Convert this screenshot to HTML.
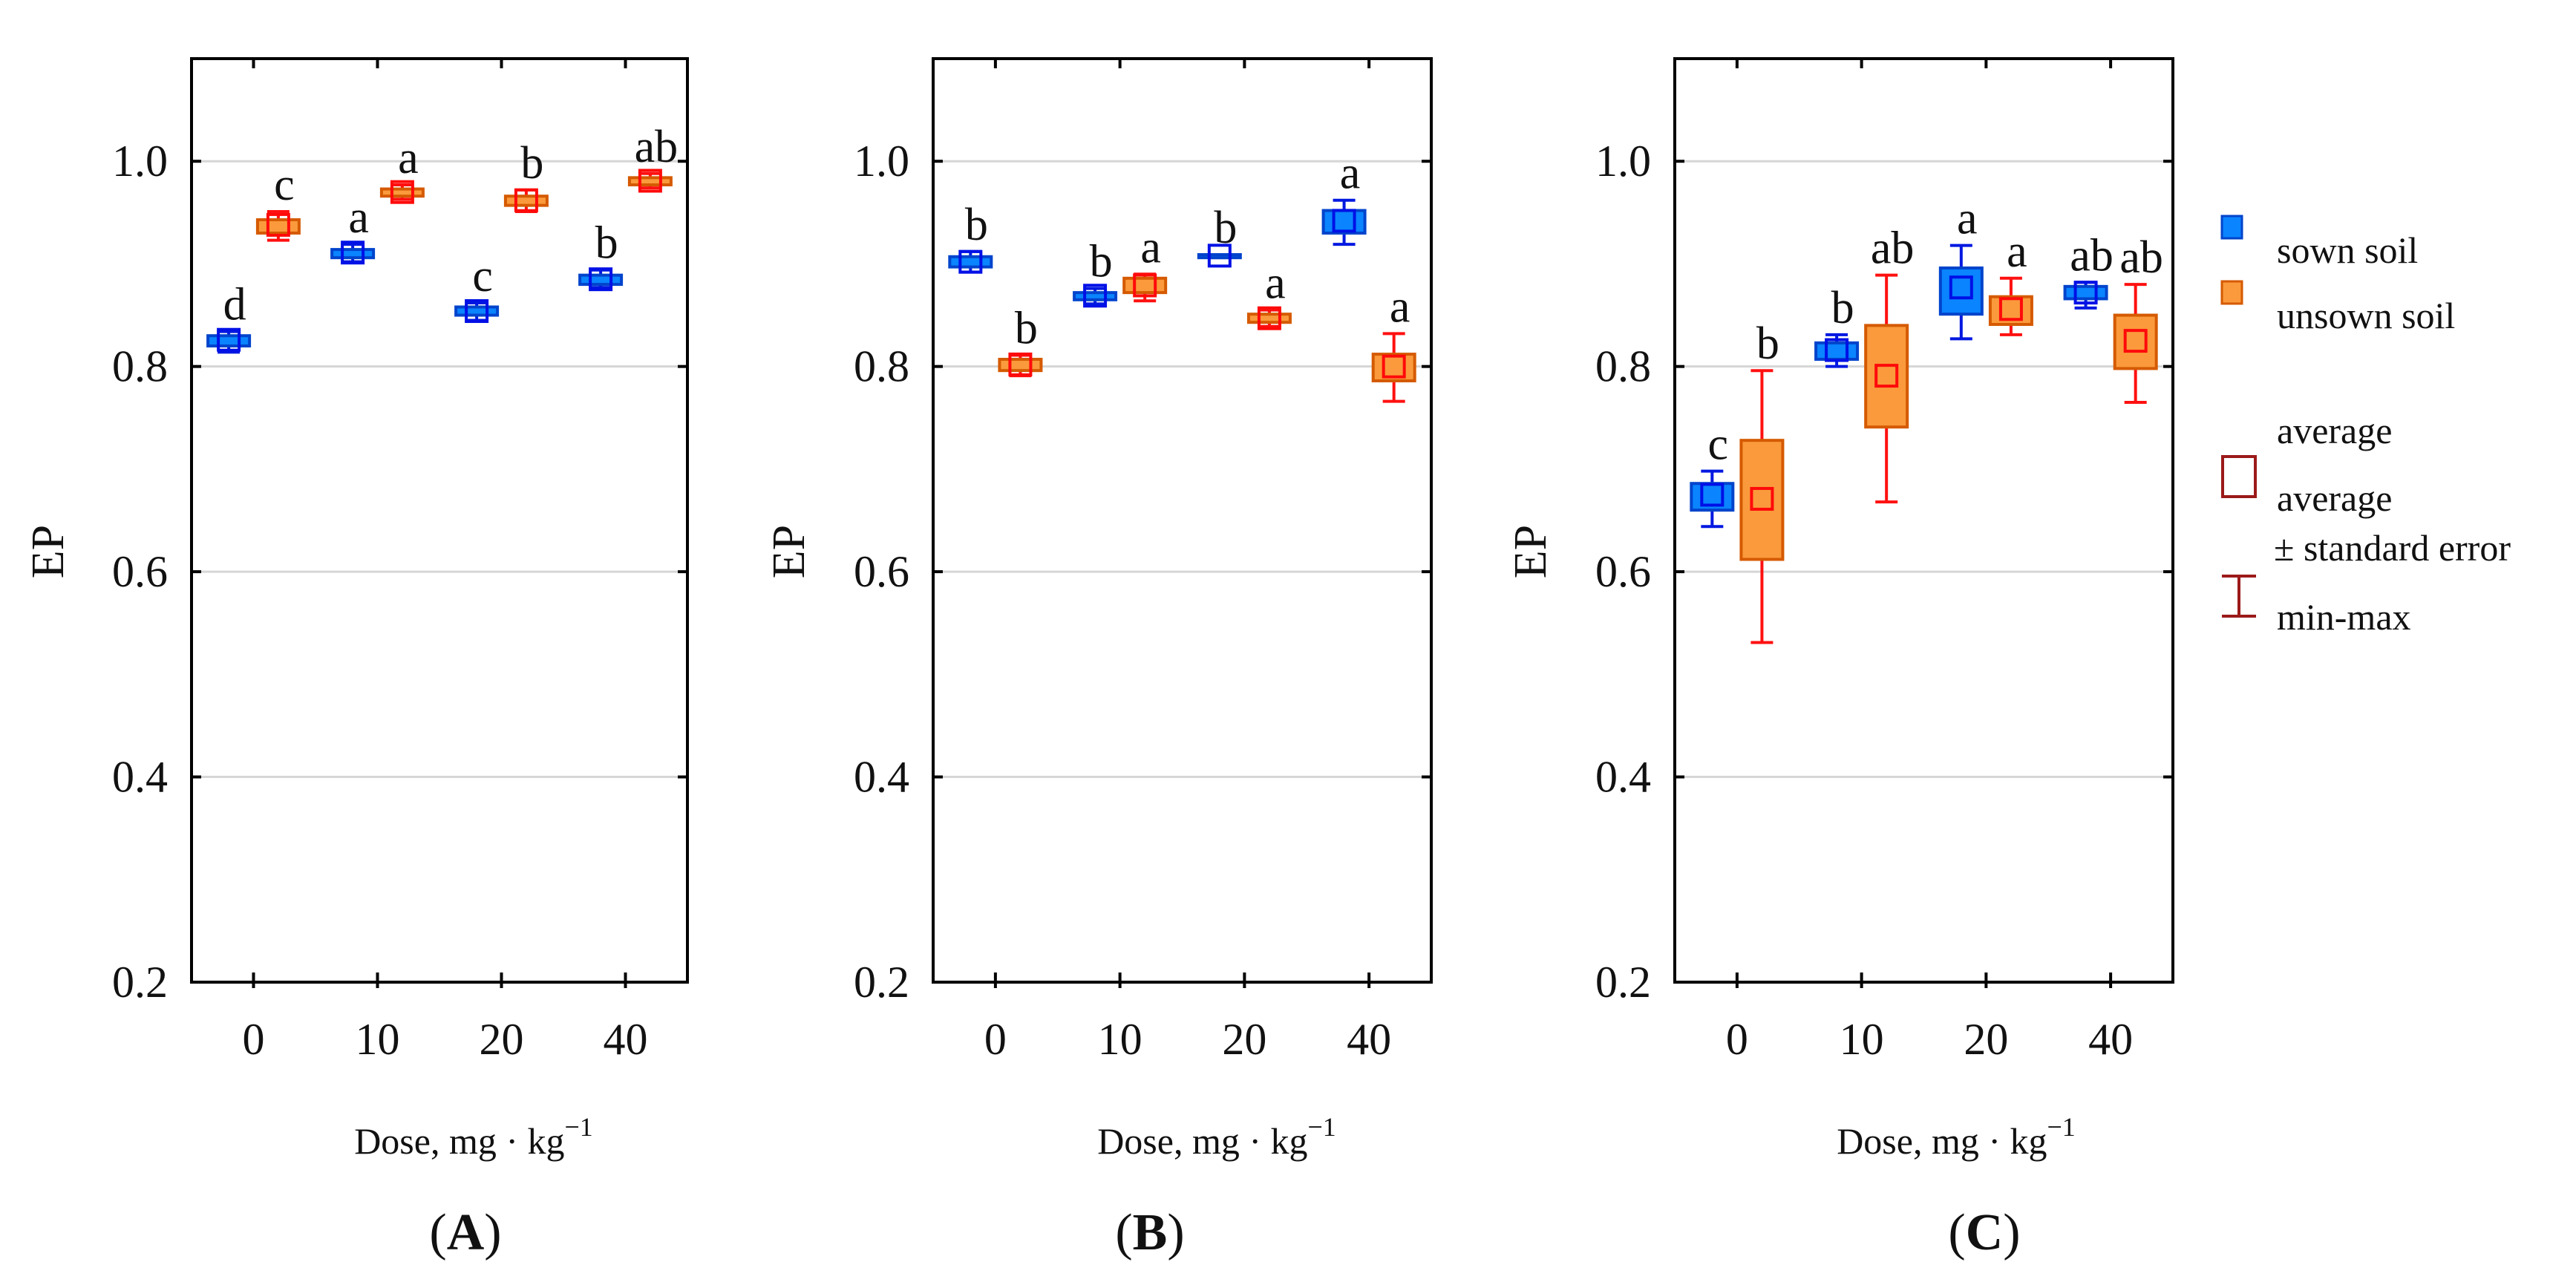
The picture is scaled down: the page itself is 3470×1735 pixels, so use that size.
<!DOCTYPE html>
<html><head><meta charset="utf-8"><style>
html,body{margin:0;padding:0;background:#fff}
svg{display:block}
text{font-family:"Liberation Serif",serif;fill:#111}
</style></head><body>
<svg id="fig" width="3470" height="1735" viewBox="0 0 3470 1735" xmlns="http://www.w3.org/2000/svg"></svg>
<script>
const categories = ["0","10","20","40"];
const yTicks = [0.2,0.4,0.6,0.8,1.0];
const yTickLabels = ["0.2","0.4","0.6","0.8","1.0"];
// Panel A
const aSownMean=[0.826,0.911,0.854,0.885], aSownLo=[0.820,0.906,0.850,0.880], aSownHi=[0.830,0.914,0.858,0.889], aSownMin=[0.814,0.902,0.845,0.877], aSownMax=[0.834,0.919,0.862,0.894];
const aUnMean=[0.938,0.970,0.962,0.981], aUnLo=[0.930,0.966,0.957,0.977], aUnHi=[0.943,0.973,0.966,0.984], aUnMin=[0.923,0.963,0.951,0.974], aUnMax=[0.951,0.977,0.972,0.988];
const aSownLetters=["d","a","c","b"], aUnLetters=["c","a","b","ab"];
// Panel B
const bSownMean=[0.902,0.869,0.908,0.942], bSownLo=[0.897,0.865,0.906,0.930], bSownHi=[0.907,0.872,0.909,0.952], bSownMin=[0.892,0.861,0.906,0.919], bSownMax=[0.912,0.876,0.909,0.962];
const bUnMean=[0.802,0.879,0.847,0.800], bUnLo=[0.796,0.872,0.843,0.786], bUnHi=[0.807,0.886,0.851,0.812], bUnMin=[0.791,0.864,0.839,0.766], bUnMax=[0.811,0.890,0.855,0.832];
const bSownLetters=["b","b","b","a"], bUnLetters=["b","a","a","a"];
// Panel C
const cSownMean=[0.675,0.816,0.877,0.872], cSownLo=[0.660,0.807,0.851,0.866], cSownHi=[0.686,0.823,0.896,0.878], cSownMin=[0.644,0.800,0.827,0.857], cSownMax=[0.698,0.831,0.918,0.882];
const cUnMean=[0.671,0.791,0.856,0.825], cUnLo=[0.612,0.741,0.841,0.798], cUnHi=[0.728,0.840,0.868,0.850], cUnMin=[0.531,0.668,0.831,0.765], cUnMax=[0.796,0.889,0.886,0.880];
const cSownLetters=["c","b","a","ab"], cUnLetters=["b","ab","a","ab"];

const svg=document.getElementById('fig');
const NS="http://www.w3.org/2000/svg";
function mk(tag,attrs,parent){const e=document.createElementNS(NS,tag);for(const k in attrs)e.setAttribute(k,attrs[k]);(parent||svg).appendChild(e);return e;}
const TOP=79,BOT=1323;
function yS(v){return BOT-(v-0.2)/(1.1-0.2)*(BOT-TOP);}

const panels=[
 {id:"a",L:258,R:926,ep:64,title:"(A)",tx:627,dx:638,s:[aSownMean,aSownLo,aSownHi,aSownMin,aSownMax,aSownLetters],u:[aUnMean,aUnLo,aUnHi,aUnMin,aUnMax,aUnLetters]},
 {id:"b",L:1257,R:1928,ep:1062,title:"(B)",tx:1549,dx:1639,s:[bSownMean,bSownLo,bSownHi,bSownMin,bSownMax,bSownLetters],u:[bUnMean,bUnLo,bUnHi,bUnMin,bUnMax,bUnLetters]},
 {id:"c",L:2256,R:2927,ep:2061,title:"(C)",tx:2673,dx:2635,s:[cSownMean,cSownLo,cSownHi,cSownMin,cSownMax,cSownLetters],u:[cUnMean,cUnLo,cUnHi,cUnMin,cUnMax,cUnLetters]}
];
const sty={
 s:{fill:"#0a84ff",edge:"#0044cc",mean:"#0010e6",wh:"#0018e0"},
 u:{fill:"#fa9a3c",edge:"#d55a00",mean:"#ff0a0a",wh:"#ff1010"}
};
panels.forEach(p=>{
 const g=mk('g',{});
 
 
 const W=p.R-p.L;
 function xS(i){return p.L+W*(0.125+0.25*i);}
 yTicks.forEach((t,i)=>{
  const y=yS(t);
  if(i>0){const gl=mk('line',{x1:p.L,x2:p.R,y1:y,y2:y,stroke:"#d6d6d6","stroke-width":3},g);
  }
  mk('line',{x1:p.L,x2:p.L+13,y1:y,y2:y,stroke:"#000","stroke-width":4},g);
  mk('line',{x1:p.R-13,x2:p.R,y1:y,y2:y,stroke:"#000","stroke-width":4},g);
  const tl=mk('text',{x:p.L-32,y:y+20,"font-size":60,"text-anchor":"end"},g);tl.textContent=yTickLabels[i];
  
 });
 categories.forEach((c,i)=>{
  const x=xS(i);
  mk('line',{x1:x,x2:x,y1:BOT-13,y2:BOT+8,stroke:"#000","stroke-width":4},g);
  mk('line',{x1:x,x2:x,y1:TOP,y2:TOP+13,stroke:"#000","stroke-width":4},g);
  const t=mk('text',{x:x,y:1420,"font-size":60,"text-anchor":"middle"},g);t.textContent=c;
  
 });
 ["s","u"].forEach((k,si)=>{
  const d=p[k],st=sty[k];
  categories.forEach((c,i)=>{
   const x=xS(i)+(si===0?-0.2:0.2)*W*0.25;
   const bw=56,cw=30,ms=28;
   const yHi=yS(d[2][i]),yLo=yS(d[1][i]),yMax=yS(d[4][i]),yMin=yS(d[3][i]),yM=yS(d[0][i]);
   const wh=mk('path',{d:`M${x},${yMax}V${yMin}M${x-cw/2},${yMax}H${x+cw/2}M${x-cw/2},${yMin}H${x+cw/2}`,stroke:st.wh,"stroke-width":4,fill:"none"},g);
   
   const bx=mk('rect',{x:x-bw/2,y:yHi,width:bw,height:Math.max(yLo-yHi,3),fill:st.fill,stroke:st.edge,"stroke-width":4},g);
   
   const mr=mk('rect',{x:x-ms/2,y:yM-ms/2,width:ms,height:ms,fill:"none",stroke:st.mean,"stroke-width":4},g);
   
   const lt=mk('text',{x:x+8,y:Math.min(yMax,yHi)-16,"font-size":62,"text-anchor":"middle"},g);lt.textContent=d[5][i];
   
  });
 });
 const fr=mk('rect',{x:p.L,y:TOP,width:W,height:BOT-TOP,fill:"none",stroke:"#000","stroke-width":4},g);
 
 const ep=mk('text',{x:p.ep,y:743,"font-size":62,"text-anchor":"middle",transform:`rotate(-90 ${p.ep} 743)`,dy:21},g);ep.textContent="EP";
 
 const xt=mk('text',{x:p.dx,y:1554,"font-size":50,"text-anchor":"middle"},g);
 
 xt.innerHTML='Dose, mg · kg<tspan dy="-24" font-size="36">−1</tspan>';
 const pt=mk('text',{x:p.tx,y:1683,"font-size":70,"text-anchor":"middle"},g);
 
 pt.innerHTML='(<tspan font-weight="bold">'+p.title.slice(1,2)+'</tspan>)';
});
const lg=mk('g',{});


mk('rect',{x:2993,y:291,width:27,height:30,fill:"#0a84ff",stroke:"#0044cc","stroke-width":3},lg);
mk('rect',{x:2993,y:379,width:27,height:30,fill:"#fa9a3c",stroke:"#d55a00","stroke-width":3},lg);
mk('rect',{x:2994,y:615,width:44,height:54,fill:"none",stroke:"#9b1a1a","stroke-width":4},lg);
mk('path',{d:"M2993,776H3039M3016,776V830M2993,830H3039",stroke:"#9b1a1a","stroke-width":4,fill:"none"},lg);
[["sown soil",354],["unsown soil",442],["average",597],["average",688],["± standard error",755],["min-max",848]].forEach(([t,y])=>{
 const e=mk('text',{x:t[0]==="±"?3063:3067,y:y,"font-size":50},lg);e.textContent=t;
 
});
</script>
</body></html>
